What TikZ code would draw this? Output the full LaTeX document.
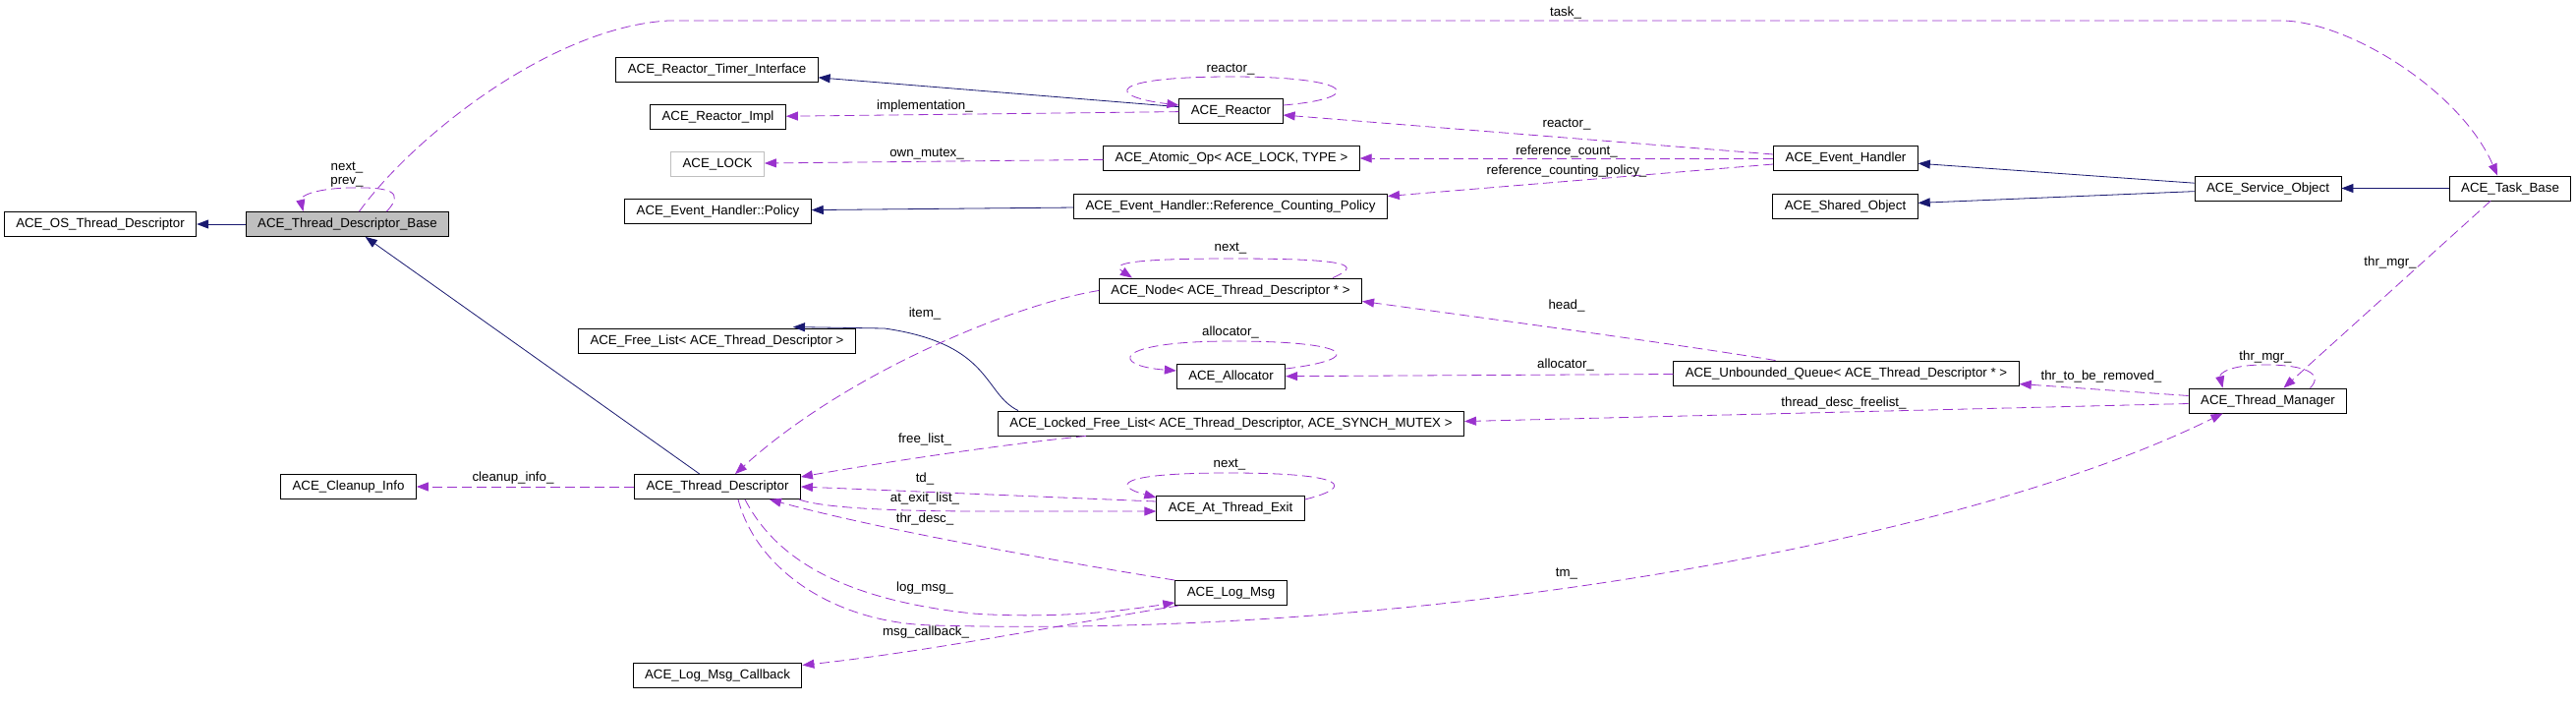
\documentclass[tikz,border=0pt]{standalone}
\usepackage{fontspec}
\setmainfont{Liberation Sans}
\usepackage{tikz}
\usetikzlibrary{arrows.meta, calc}
\definecolor{inhblue}{HTML}{191970}
\definecolor{usepurple}{HTML}{9A32CD}
\tikzset{
  class box/.style={
    draw=black,
    line width=0.9pt,
    fill=white,
    minimum height=25pt,
    inner xsep=12pt,
    inner ysep=0pt,
    text height=10pt,
    text depth=3pt,
    font=\fontsize{13.3}{15}\selectfont
  },
  base box/.style={
    class box,
    fill=black!25
  },
  faint box/.style={
    class box,
    draw=black!25
  },
  inherit line/.style={
    -{Triangle[length=12pt, width=9pt]},
    line width=0.8pt,
    color=inhblue
  },
  member line/.style={
    -{Triangle[length=12pt, width=9pt]},
    line width=0.8pt,
    dash pattern=on 10pt off 5pt,
    color=usepurple
  },
  edge label/.style={
    inner sep=0pt,
    text height=10pt,
    text depth=3pt,
    font=\fontsize{13.3}{14}\selectfont
  }
}

\begin{document}
\begin{tikzpicture}[x=1pt, y=-1pt, >=Stealth]
    % 画布：1单位 = 1像素，y 轴向下
    \useasboundingbox (0,0) rectangle (2621,715);

    % 类节点
    \node[class box] (osd) at (102,228) {ACE\_OS\_Thread\_Descriptor};
    \node[base box] (tdb) at (353.5,228) {ACE\_Thread\_Descriptor\_Base};
    \node[class box] (rti) at (729.5,70.5) {ACE\_Reactor\_Timer\_Interface};
    \node[class box] (rimpl) at (730.5,119) {ACE\_Reactor\_Impl};
    \node[faint box] (lock) at (730,166.5) {ACE\_LOCK};
    \node[class box] (pol) at (730.5,214.5) {ACE\_Event\_Handler::Policy};
    \node[class box] (reactor) at (1252.5,113) {ACE\_Reactor};
    \node[class box] (atomic) at (1253,161) {ACE\_Atomic\_Op< ACE\_LOCK, TYPE >};
    \node[class box] (rcp) at (1252,209.5) {ACE\_Event\_Handler::Reference\_Counting\_Policy};
    \node[class box] (eh) at (1878,161) {ACE\_Event\_Handler};
    \node[class box] (sho) at (1877.5,209.5) {ACE\_Shared\_Object};
    \node[class box] (so) at (2307.5,191.5) {ACE\_Service\_Object};
    \node[class box] (tb) at (2554,191.5) {ACE\_Task\_Base};
    \node[class box] (fl) at (729.5,346.5) {ACE\_Free\_List< ACE\_Thread\_Descriptor >};
    \node[class box] (node) at (1252,295.5) {ACE\_Node< ACE\_Thread\_Descriptor * >};
    \node[class box] (alloc) at (1252.5,383) {ACE\_Allocator};
    \node[class box] (uq) at (1878.5,379.5) {ACE\_Unbounded\_Queue< ACE\_Thread\_Descriptor * >};
    \node[class box] (lfl) at (1252.5,430.5) {ACE\_Locked\_Free\_List< ACE\_Thread\_Descriptor, ACE\_SYNCH\_MUTEX >};
    \node[class box] (tm) at (2307.5,407.5) {ACE\_Thread\_Manager};
    \node[class box] (ci) at (354.5,495) {ACE\_Cleanup\_Info};
    \node[class box] (td) at (730,495) {ACE\_Thread\_Descriptor};
    \node[class box] (ate) at (1252,517) {ACE\_At\_Thread\_Exit};
    \node[class box] (lm) at (1252.5,603) {ACE\_Log\_Msg};
    \node[class box] (lmc) at (730,686.5) {ACE\_Log\_Msg\_Callback};

    % 继承关系（实线）
    \draw[inherit line] (tdb) -- (osd);
    \draw[inherit line] (td) -- (tdb);
    \draw[inherit line] (reactor) -- (rti);
    \draw[inherit line] (rcp) -- (pol);
    \draw[inherit line] (so) -- (eh);
    \draw[inherit line] (so) -- (sho);
    \draw[inherit line] (tb) -- (so);
    \draw[inherit line] ($(lfl.north west)+(21,0)$) .. controls (1000,400) and (1010,350) .. (900,334) -- ($(fl.north east)+(-64,-1)$);

    % 成员关系（虚线）
    % Thread_Descriptor_Base
    \draw[member line] ($(tdb.north)+(40,0)$) .. controls (412,195) and (398,190) .. (355,191) .. controls (318,192) and (305,200) .. ($(tdb.north)+(-45,0)$);
    \node[edge label] (l-next) at (353,170) {next\_};
    \node[edge label] (l-prev) at (353,184) {prev\_};
    \draw[member line] ($(tdb.north)+(12,0)$) .. controls (420,140) and (560,28) .. (680,21) -- (2324,21) .. controls (2395,24) and (2505,95) .. ($(tb.north)+(-13,0)$);
    \node[edge label] (l-task) at (1593,13) {task\_};

    % Reactor 一组
    \draw[member line] ($(reactor.east)+(0,-6)$) .. controls (1390,100) and (1380,78) .. (1253,78) .. controls (1125,78) and (1125,98) .. ($(reactor.west)+(0,-6)$);
    \node[edge label] (l-reactorself) at (1252,70) {reactor\_};
    \draw[member line] (reactor) -- (rimpl);
    \node[edge label] (l-impl) at (941,108) {implementation\_};
    \draw[member line] (atomic) -- (lock);
    \node[edge label] (l-mutex) at (943,156) {own\_mutex\_};
    \draw[member line] ($(eh.west)+(0,-4)$) -- ($(reactor.east)+(0,4)$);
    \node[edge label] (l-reactor) at (1594,126) {reactor\_};
    \draw[member line] (eh) -- (atomic);
    \node[edge label] (l-refcount) at (1594,154) {reference\_count\_};
    \draw[member line] ($(eh.west)+(0,6)$) -- ($(rcp.east)+(0,-10)$);
    \node[edge label] (l-refpolicy) at (1594,174) {reference\_counting\_policy\_};

    % Node / Allocator / Unbounded_Queue
    \draw[member line] ($(node.north east)+(-30,0)$) .. controls (1385,270) and (1378,263) .. (1253,263) .. controls (1133,263) and (1133,270) .. ($(node.north west)+(34,0)$);
    \node[edge label] (l-nodenext) at (1252,252) {next\_};
    \draw[member line] (node.west) .. controls (1030,310) and (860,380) .. ($(td.north)+(18,0)$);
    \node[edge label] (l-item) at (941,319) {item\_};
    \draw[member line] ($(uq.north)+(-72,0)$) .. controls (1720,352) and (1500,322) .. ($(node.south east)+(0,-2)$);
    \node[edge label] (l-head) at (1594,311) {head\_};
    \draw[member line] ($(alloc.east)+(0,-8)$) .. controls (1390,365) and (1378,347) .. (1253,347) .. controls (1130,347) and (1130,372) .. ($(alloc.west)+(0,-6)$);
    \node[edge label] (l-allocself) at (1252,338) {allocator\_};
    \draw[member line] (uq) -- (alloc);
    \node[edge label] (l-alloc) at (1593,371) {allocator\_};

    % Thread_Manager
    \draw[member line] ($(tb.south)+(-20,0)$) -- ($(tm.north)+(16,0)$);
    \node[edge label] (l-thrmgr) at (2432,267) {thr\_mgr\_};
    \draw[member line] ($(tm.north)+(43,0)$) .. controls (2365,380) and (2345,371) .. (2305,371) .. controls (2268,371) and (2258,380) .. ($(tm.north)+(-46,0)$);
    \node[edge label] (l-thrmgrself) at (2305,363) {thr\_mgr\_};
    \draw[member line] ($(tm.west)+(0,-5)$) -- ($(uq.east)+(0,11)$);
    \node[edge label] (l-removed) at (2138,383) {thr\_to\_be\_removed\_};
    \draw[member line] ($(tm.west)+(0,3)$) -- ($(lfl.east)+(0,-2)$);
    \node[edge label] (l-freelist) at (1876,410) {thread\_desc\_freelist\_};

    % Thread_Descriptor 一组
    \draw[member line] (td) -- (ci);
    \node[edge label] (l-cleanup) at (522,486) {cleanup\_info\_};
    \draw[member line] ($(lfl.south west)+(90,0)$) .. controls (1020,452) and (900,470) .. ($(td.east)+(0,-10)$);
    \node[edge label] (l-flist) at (941,447) {free\_list\_};
    \draw[member line] ($(ate.west)+(0,-7)$) -- (td.east);
    \node[edge label] (l-td) at (941,487) {td\_};
    \draw[member line] ($(td.south east)+(-2,0)$) .. controls (835,516) and (900,520) .. (1000,520) -- ($(ate.west)+(0,3)$);
    \node[edge label] (l-exitlist) at (941,507) {at\_exit\_list\_};
    \draw[member line] ($(ate.east)+(0,-9)$) .. controls (1380,495) and (1370,481) .. (1251,481) .. controls (1130,481) and (1135,495) .. ($(ate.west)+(0,-11)$);
    \node[edge label] (l-atenext) at (1251,472) {next\_};

    % Log_Msg 一组
    \draw[member line] (lm.north west) .. controls (1100,575) and (900,540) .. ($(td.south east)+(-32,0)$);
    \node[edge label] (l-thrdesc) at (941,528) {thr\_desc\_};
    \draw[member line] ($(td.south)+(28,0)$) .. controls (790,570) and (860,610) .. (990,624) .. controls (1080,630) and (1150,620) .. ($(lm.south west)+(0,-3)$);
    \node[edge label] (l-logmsg) at (941,598) {log\_msg\_};
    \draw[member line] ($(lm.south west)+(4,0)$) .. controls (1100,632) and (950,662) .. ($(lmc.east)+(0,-10)$);
    \node[edge label] (l-callback) at (942,643) {msg\_callback\_};
    \draw[member line] ($(td.south)+(21,0)$) .. controls (770,580) and (850,634) .. (950,636) .. controls (1450,650) and (2000,550) .. ($(tm.south)+(-46,0)$);
    \node[edge label] (l-tm) at (1594,583) {tm\_};

  \end{tikzpicture}
\end{document}
